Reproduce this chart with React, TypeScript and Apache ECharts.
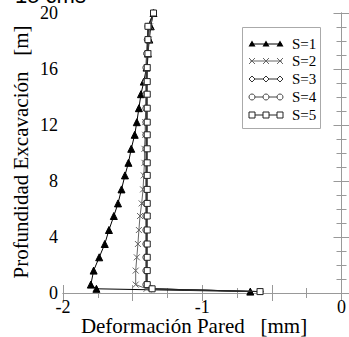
import React, { useEffect, useRef } from "react";
import * as echarts from "echarts";

const depths = [20, 19.05, 18.1, 17.1, 16.1, 15.1, 14.2, 13.2, 12.2, 11.3, 10.3, 9.3, 8.4, 7.4, 6.4, 5.5, 4.5, 3.5, 2.55, 1.6, 0.6, 0.3, 0.1];
const s1 = [-1.35, -1.37, -1.38, -1.39, -1.4, -1.42, -1.44, -1.455, -1.47, -1.485, -1.51, -1.53, -1.555, -1.58, -1.605, -1.635, -1.67, -1.7, -1.74, -1.78, -1.8, -1.76, -0.655];
const s2 = [-1.35, -1.375, -1.385, -1.39, -1.395, -1.4, -1.4, -1.405, -1.41, -1.41, -1.415, -1.415, -1.42, -1.425, -1.435, -1.447, -1.455, -1.462, -1.47, -1.478, -1.478, -1.4, -0.585];
const s3 = [-1.35, -1.385, -1.39, -1.395, -1.4, -1.4, -1.4, -1.4, -1.4, -1.4, -1.4, -1.4, -1.4, -1.4, -1.4, -1.4, -1.4, -1.4, -1.4, -1.4, -1.4, -1.37, -0.585];
const s4 = [-1.35, -1.39, -1.395, -1.4, -1.405, -1.405, -1.405, -1.405, -1.405, -1.405, -1.405, -1.405, -1.405, -1.405, -1.405, -1.405, -1.405, -1.405, -1.405, -1.405, -1.405, -1.365, -0.585];
const s5 = [-1.35, -1.39, -1.39, -1.39, -1.395, -1.395, -1.395, -1.395, -1.395, -1.395, -1.395, -1.395, -1.395, -1.395, -1.395, -1.395, -1.395, -1.395, -1.395, -1.395, -1.395, -1.36, -0.585];
const seriesNames = ["S=1", "S=2", "S=3", "S=4", "S=5"];
const xLabel = "Deformación Pared   [mm]";
const yLabel = "Profundidad Excavación   [m]";
const title = "15 cms";

const SERIF = "Liberation Serif";
const CROSS = "path://M0,0L10,10M10,0L0,10";

export default function App() {
  const ref = useRef<HTMLDivElement>(null);
  useEffect(() => {
    if (!ref.current) return;
    const chart = echarts.init(ref.current, null, { renderer: "svg" });
    const pts = (xs: number[]) => xs.map((x, i) => [x, depths[i]]);
    const colors = ["#000", "#666", "#333", "#444", "#222"];
    const mk = (i: number, xs: number[], symbol: string, size: number, fill: string) => ({
      name: seriesNames[i],
      type: "line",
      data: pts(xs),
      symbol,
      symbolSize: size,
      lineStyle: { color: colors[i], width: 1 },
      itemStyle: { color: fill, borderColor: colors[i], borderWidth: 1 },
      z: 2 + i,
    });

    const axisCommon = {
      type: "value",
      axisLine: { show: true, lineStyle: { color: "#999", width: 1 } },
      axisTick: { show: true, inside: true, length: 8, lineStyle: { color: "#999" } },
      minorTick: { show: true, length: 5, lineStyle: { color: "#999" } },
      splitLine: { show: false },
      minorSplitLine: { show: false },
    };

    const legendX = 242, legendY = 27;
    const rowYs = [44, 61, 79, 97, 115];
    const mxs = [252, 266, 280];
    const legendChildren: any[] = [
      { type: "rect", shape: { x: legendX + 0.5, y: legendY + 0.5, width: 78, height: 101 }, style: { fill: "#fff", stroke: "#aaa", lineWidth: 1 } },
    ];
    rowYs.forEach((ry, i) => {
      legendChildren.push({ type: "line", shape: { x1: 250, y1: ry, x2: 282, y2: ry }, style: { stroke: colors[i], lineWidth: 1 } });
      mxs.forEach((mx) => {
        if (i === 0) legendChildren.push({ type: "polygon", shape: { points: [[mx, ry - 3.5], [mx + 3.5, ry + 2.5], [mx - 3.5, ry + 2.5]] }, style: { fill: "#000" } });
        if (i === 1) {
          legendChildren.push({ type: "line", shape: { x1: mx - 3, y1: ry - 3, x2: mx + 3, y2: ry + 3 }, style: { stroke: colors[i], lineWidth: 1 } });
          legendChildren.push({ type: "line", shape: { x1: mx - 3, y1: ry + 3, x2: mx + 3, y2: ry - 3 }, style: { stroke: colors[i], lineWidth: 1 } });
        }
        if (i === 2) legendChildren.push({ type: "polygon", shape: { points: [[mx, ry - 3], [mx + 3, ry], [mx, ry + 3], [mx - 3, ry]] }, style: { fill: "#fff", stroke: colors[i], lineWidth: 1 } });
        if (i === 3) legendChildren.push({ type: "circle", shape: { cx: mx, cy: ry, r: 3 }, style: { fill: "#fff", stroke: colors[i], lineWidth: 1 } });
        if (i === 4) legendChildren.push({ type: "rect", shape: { x: mx - 3, y: ry - 3, width: 6, height: 6 }, style: { fill: "#fff", stroke: colors[i], lineWidth: 1 } });
      });
      legendChildren.push({ type: "text", x: 292, y: ry, style: { text: seriesNames[i], fontFamily: SERIF, fontSize: 15, fill: "#000", verticalAlign: "middle", align: "left" } });
    });

    chart.setOption({
      animation: false,
      backgroundColor: "#fff",
      grid: { left: 63, right: 4, top: 13, bottom: 44 },
      xAxis: [
        {
          ...axisCommon,
          min: -2, max: 0, interval: 0.5,
          minorTick: { ...axisCommon.minorTick, splitNumber: 2 },
          axisLabel: { color: "#000", fontFamily: SERIF, fontSize: 18, margin: 5, formatter: (v: number) => (Number.isInteger(v) ? String(v) : "") },
        },
        {
          ...axisCommon,
          position: "top",
          min: -2, max: 0, interval: 0.5,
          minorTick: { ...axisCommon.minorTick, splitNumber: 2 },
          axisLabel: { show: false },
        },
      ],
      yAxis: [
        {
          ...axisCommon,
          min: 0, max: 20, interval: 4,
          minorTick: { ...axisCommon.minorTick, splitNumber: 4 },
          axisLabel: { color: "#000", fontFamily: SERIF, fontSize: 18, margin: 5 },
        },
        {
          ...axisCommon,
          position: "right",
          min: 0, max: 20, interval: 4,
          minorTick: { ...axisCommon.minorTick, splitNumber: 4 },
          axisLabel: { show: false },
        },
      ],
      series: [
        mk(0, s1, "triangle", 7, "#000"),
        { ...mk(1, s2, CROSS, 6, "rgba(0,0,0,0)") },
        mk(2, s3, "diamond", 6, "#fff"),
        mk(3, s4, "circle", 6, "#fff"),
        mk(4, s5, "rect", 6, "#fff"),
      ],
      graphic: [
        { type: "text", x: 15, y: 6, style: { text: title, fontFamily: "Liberation Sans", fontSize: 22, fill: "#000", verticalAlign: "bottom", align: "left" } },
        { type: "text", x: 194, y: 326, style: { text: xLabel, fontFamily: SERIF, fontSize: 21, fill: "#000", verticalAlign: "middle", align: "center" } },
        { type: "text", x: 21, y: 152, rotation: Math.PI / 2, style: { text: yLabel, fontFamily: SERIF, fontSize: 21, fill: "#000", verticalAlign: "middle", align: "center" } },
        { type: "group", children: legendChildren },
      ],
    });
    return () => chart.dispose();
  }, []);
  return <div ref={ref} style={{ width: 349, height: 337, position: "absolute", left: 0, top: 0 }} />;
}
